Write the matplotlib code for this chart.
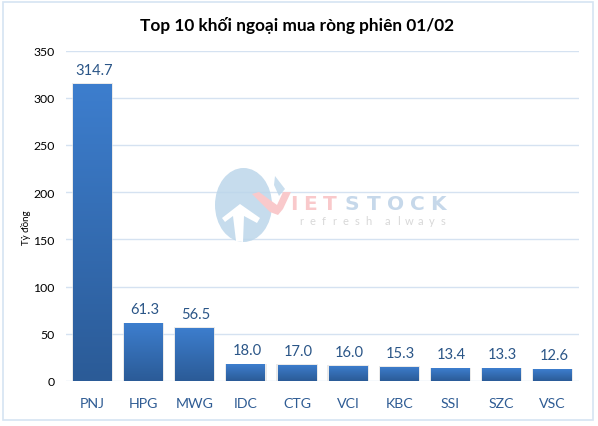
#!/usr/bin/env python3
import numpy as np
import matplotlib
matplotlib.use("Agg")
import matplotlib.pyplot as plt
from matplotlib.colors import LinearSegmentedColormap
from matplotlib.patches import Ellipse, Polygon, Rectangle

plt.rcParams["font.family"] = ["Lato", "Open Sans", "DejaVu Sans"]

# data
tickers = ["PNJ", "HPG", "MWG", "IDC", "CTG", "VCI", "KBC", "SSI", "SZC", "VSC"]
values = [314.7, 61.3, 56.5, 18.0, 17.0, 16.0, 15.3, 13.4, 13.3, 12.6]
y_ticks = [0, 50, 100, 150, 200, 250, 300, 350]
title = "Top 10 khối ngoại mua ròng phiên 01/02"
y_label = "Tỷ đồng"

W, H = 598, 427
fig = plt.figure(figsize=(W / 100, H / 100), dpi=100, facecolor="white")

# plot area in pixels: x 66-579, y 51.5-382
ax = fig.add_axes([66 / W, 1 - 382 / H, 513 / W, 330.5 / H])
x_range = (-0.5186, 9.517)
ax.set_xlim(*x_range)
ax.set_ylim(0, 350)
for s in ax.spines.values():
    s.set_visible(False)
ax.set_axisbelow(True)
ax.yaxis.grid(True, color="#D5E2F1", lw=1.0)
ax.xaxis.grid(False)
ax.tick_params(length=0)
ax.set_yticks(y_ticks)
ax.set_yticklabels([str(v) for v in y_ticks], fontsize=8.8, color="black")
ax.tick_params(axis="y", pad=8)
ax.set_xticks(range(len(tickers)))
ax.set_xticklabels(tickers, fontsize=10.2, color="#2F5C94")
ax.tick_params(axis="x", pad=11.5)

# bars with the vertical gradient, one image clipped to each bar
cmap = LinearSegmentedColormap.from_list("bar", ["#2B5B97", "#3D7ECE"])
grad = np.linspace(0, 1, 128).reshape(-1, 1)
width = 0.76
for i, v in enumerate(values):
    ax.add_patch(Rectangle((i - width / 2 - 0.025, 0), width + 0.05, v + 0.5,
                           fc="#DDDDDD", ec="none", alpha=0.6, zorder=2))
    bar = ax.bar(i, v, width=width, color="#3568AD", zorder=3)[0]
    im = ax.imshow(grad, cmap=cmap, origin="lower", aspect="auto", zorder=3.1,
                   extent=(i - width / 2, i + width / 2, 0, v))
    im.set_clip_path(bar)
    ax.annotate(f"{v:.1f}", (i, v), xytext=(1, 5), textcoords="offset points",
                ha="center", va="bottom", fontsize=10.6, color="#2A5587", zorder=5)
ax.set_xlim(*x_range)
ax.set_ylim(0, 350)

fig.text(297 / W, 1 - 26 / H, title, ha="center", va="center", fontsize=12.4,
         fontweight="bold", color="black")
fig.text(26 / W, 1 - 228 / H, y_label, rotation=90, ha="center", va="center",
         fontsize=7, color="black")

# overlay in pixel coordinates for the frame and the watermark
ov = fig.add_axes([0, 0, 1, 1], zorder=10)
ov.set_xlim(0, W)
ov.set_ylim(H, 0)
ov.axis("off")
ov.add_patch(Rectangle((2.5, 2.5), 590.5, 418.5, fc="none", ec="#D6E4F2", lw=1.2))

ov.add_patch(Ellipse((243.5, 206), 57, 74, fc="#BCD6EA", ec="none", alpha=0.85))
ov.add_patch(Polygon([(262, 168), (272, 178), (276, 192), (272, 192), (266, 178)],
                     fc="white", ec="none"))
ov.add_patch(Polygon([(275, 177), (285, 190), (279, 197), (274, 186)],
                     fc="#BCD6EA", ec="none", alpha=0.8))
ov.add_patch(Polygon([(240, 205), (260, 219), (257, 224), (244, 217), (243, 243),
                      (236, 242), (233, 217), (225, 223), (222, 219)],
                     fc="white", ec="none"))
ov.add_patch(Polygon([(252, 195), (259, 193), (277, 206), (283, 193), (291, 193),
                      (283, 210), (278, 216), (270, 213)],
                     fc="#F9C9CB", ec="none"))

# the letters are placed one by one, the logo type is much wider than any font here
for ch, x in zip("IET", [294, 310, 330]):
    ov.text(x, 205, ch, fontsize=14.5, fontweight="bold", family="DejaVu Sans",
            color="#F9C9CB", ha="center", va="center")
for ch, x in zip("STOCK", [352, 374, 396, 417, 438]):
    ov.text(x, 205, ch, fontsize=14.5, fontweight="bold", family="DejaVu Sans",
            color="#C6D8EA", ha="center", va="center")
for ch, x in zip("refresh", np.arange(7) * 11.2 + 301):
    ov.text(x, 222, ch, fontsize=8, color="#D8D8D8", ha="center", va="center")
for ch, x in zip("always", np.arange(6) * 11.2 + 387):
    ov.text(x, 222, ch, fontsize=8, color="#D8D8D8", ha="center", va="center")

fig.savefig("out.png", dpi=100, facecolor="white")
